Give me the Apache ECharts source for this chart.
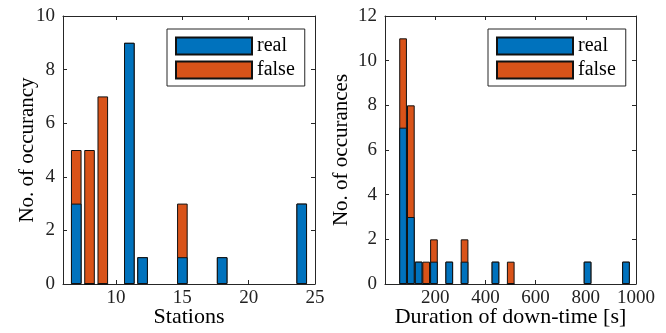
<!DOCTYPE html>
<html>
<head>
<meta charset="utf-8">
<script src="https://cdn.jsdelivr.net/npm/echarts@6/dist/echarts.min.js"></script>
<style>html,body{margin:0;padding:0;background:#fff;}#c{width:666px;height:333px;}</style>
</head>
<body>
<div id="c"></div>
<script>
// Left panel: stations
const stations = [7, 8, 9, 11, 12, 15, 18, 24];
const stationsReal = [3, 0, 0, 9, 1, 1, 1, 3];
const stationsFalse = [2, 5, 7, 0, 0, 2, 0, 0];
const stationTicks = [10, 15, 20, 25];

// Right panel: duration of down-time [s]
const durations = [72, 103, 134, 164, 195, 256, 317, 440, 501, 807, 960];
const durationsReal = [7, 3, 1, 0, 1, 1, 1, 1, 0, 1, 1];
const durationsFalse = [4, 5, 0, 1, 1, 0, 1, 0, 1, 0, 0];
const durationTicks = [200, 400, 600, 800, 1000];

const seriesNames = ['real', 'false'];

const FONT = 'Liberation Serif';
const AX = '#262626';
const BLUE = '#0072BD';
const ORANGE = '#D95319';

// real at bottom, false stacked on top (drawn as the full stack height behind the real bar)
function pairs(xs, ys) { return xs.map((x, i) => [x, ys[i]]); }
function stackTop(xs, base, top) { return xs.map((x, i) => [x, base[i] + top[i]]); }

function xAxisPair(gi, min, max, ticks, name) {
  return [
    {
      type: 'value', gridIndex: gi, min: min, max: max, position: 'bottom',
      name: name, nameLocation: 'middle', nameGap: 22, nameMoveOverlap: false,
      nameTextStyle: { fontFamily: FONT, fontSize: 22, color: '#000' },
      axisLine: { show: true, onZero: false, lineStyle: { color: AX, width: 1 } },
      axisTick: { show: true, inside: true, length: 4, customValues: ticks, lineStyle: { color: AX } },
      axisLabel: { show: true, customValues: ticks, margin: 5, fontFamily: FONT, fontSize: 19, color: '#222',
                   formatter: v => String(v) },
      splitLine: { show: false }
    },
    {
      type: 'value', gridIndex: gi, min: min, max: max, position: 'top',
      axisLine: { show: true, onZero: false, lineStyle: { color: AX, width: 1 } },
      axisTick: { show: true, inside: true, length: 4, customValues: ticks, lineStyle: { color: AX } },
      axisLabel: { show: false },
      splitLine: { show: false }
    }
  ];
}

function yAxisPair(gi, max, name, gap) {
  return [
    {
      type: 'value', gridIndex: gi, min: 0, max: max, interval: 2, position: 'left',
      name: name, nameLocation: 'middle', nameGap: gap, nameMoveOverlap: false,
      nameTextStyle: { fontFamily: FONT, fontSize: 21, color: '#000' },
      axisLine: { show: true, onZero: false, lineStyle: { color: AX, width: 1 } },
      axisTick: { show: true, inside: true, length: 4, lineStyle: { color: AX } },
      axisLabel: { show: true, margin: 8, fontFamily: FONT, fontSize: 19, color: '#222' },
      splitLine: { show: false }
    },
    {
      type: 'value', gridIndex: gi, min: 0, max: max, interval: 2, position: 'right',
      axisLine: { show: true, onZero: false, lineStyle: { color: AX, width: 1 } },
      axisTick: { show: true, inside: true, length: 4, lineStyle: { color: AX } },
      axisLabel: { show: false },
      splitLine: { show: false }
    }
  ];
}

function bar(name, data, xi, yi, color, width, z) {
  return {
    type: 'bar', name: name, data: data, xAxisIndex: xi, yAxisIndex: yi,
    barWidth: width, barGap: '-100%', z: z, animation: false,
    itemStyle: { color: color, borderColor: '#111', borderWidth: 1 }
  };
}

function legend(left) {
  return {
    data: seriesNames, orient: 'vertical', left: left, top: 29,
    backgroundColor: '#fff', borderColor: AX, borderWidth: 1,
    padding: [7, 10, 6, 8], itemWidth: 76, itemHeight: 17, itemGap: 4,
    icon: 'rect', selectedMode: false,
    textStyle: { fontFamily: FONT, fontSize: 20, color: '#000', lineHeight: 20 }
  };
}

const chart = echarts.init(document.getElementById('c'), null, { renderer: 'canvas' });
chart.setOption({
  animation: false,
  backgroundColor: '#fff',
  grid: [
    { left: 63, top: 16, width: 252, height: 268, containLabel: false, outerBoundsMode: 'none' },
    { left: 385, top: 16, width: 251, height: 268, containLabel: false, outerBoundsMode: 'none' }
  ],
  xAxis: [].concat(
    xAxisPair(0, 6, 25, stationTicks, 'Stations'),
    xAxisPair(1, 0, 1000, durationTicks, 'Duration of down-time [s]')
  ),
  yAxis: [].concat(
    yAxisPair(0, 10, 'No. of occurancy', 25),
    yAxisPair(1, 12, 'No. of occurances', 33)
  ),
  legend: [legend(167), legend(488)],
  series: [
    bar(seriesNames[1], stackTop(stations, stationsReal, stationsFalse), 0, 0, ORANGE, 10.6, 2),
    bar(seriesNames[0], pairs(stations, stationsReal), 0, 0, BLUE, 10.6, 3),
    bar(seriesNames[1], stackTop(durations, durationsReal, durationsFalse), 2, 2, ORANGE, 7.7, 2),
    bar(seriesNames[0], pairs(durations, durationsReal), 2, 2, BLUE, 7.7, 3)
  ]
});
</script>
</body>
</html>
